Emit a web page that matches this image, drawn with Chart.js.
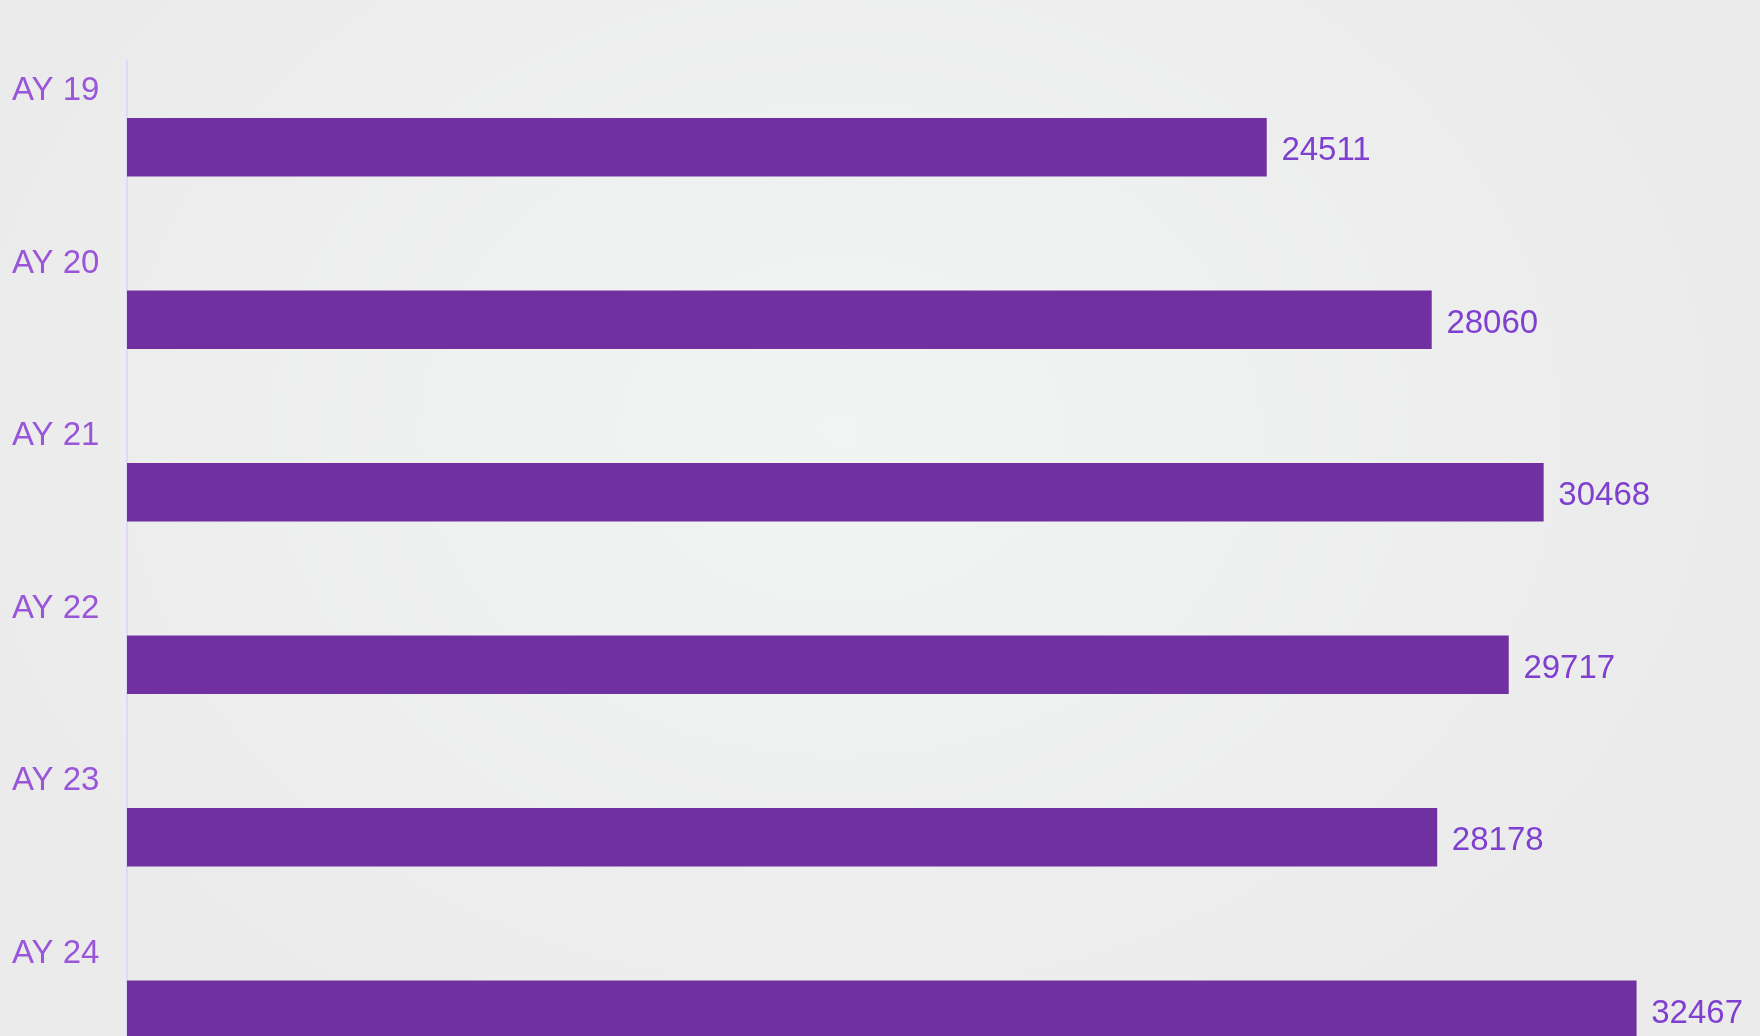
<!DOCTYPE html>
<html>
<head>
<meta charset="utf-8">
<title>AY totals</title>
<script src="https://cdn.jsdelivr.net/npm/chart.js@4.4.1/dist/chart.umd.min.js"></script>
<style>
  html, body {
    margin: 0;
    padding: 0;
    width: 1760px;
    height: 1036px;
    overflow: hidden;
    background: radial-gradient(ellipse 900px 700px at 840px 430px, #f2f3f3 0%, #eff0f0 45%, #ebebeb 100%);
  }
  #chart {
    display: block;
  }
</style>
</head>
<body>
<canvas id="chart" width="1760" height="1120"></canvas>
<script>
// chart data
const years = ["AY 19", "AY 20", "AY 21", "AY 22", "AY 23", "AY 24"];
const totals = [24511, 28060, 30468, 29717, 28178, 32467];

const fontFamily = "'Liberation Sans', Arial, sans-serif";

// Draw the value at the end of each bar
const valueLabels = {
  id: "valueLabels",
  afterDatasetsDraw(chart) {
    const ctx = chart.ctx;
    const meta = chart.getDatasetMeta(0);
    ctx.save();
    ctx.font = `33px ${fontFamily}`;
    ctx.fillStyle = "#7f3fcf";
    ctx.textAlign = "left";
    ctx.textBaseline = "middle";
    meta.data.forEach((bar, i) => {
      ctx.fillText(String(totals[i]), bar.x + 15, bar.y + 4);
    });
    ctx.restore();
  },
};

const ctx = document.getElementById("chart");

new Chart(ctx, {
  type: "bar",
  data: {
    labels: years,
    datasets: [
      {
        label: "Total",
        data: totals,
        backgroundColor: "#7030a0",
        borderWidth: 0,
        barThickness: 58,
      },
    ],
  },
  options: {
    indexAxis: "y",
    responsive: false,
    animation: false,
    layout: {
      // bottom padding soaks up the room Chart.js keeps for the last tick label
      padding: { left: 12, top: 61, right: 6, bottom: 24 },
    },
    plugins: {
      legend: { display: false },
      tooltip: { enabled: false },
    },
    scales: {
      x: {
        display: false,
        min: 0,
        max: 35000,
      },
      y: {
        grid: { display: false },
        border: { display: true, color: "#e4d6f7", width: 2 },
        ticks: {
          crossAlign: "far",
          labelOffset: -56,
          color: "#9a56d8",
          font: { family: fontFamily, size: 33 },
        },
        afterFit(scale) {
          scale.width = 115;
        },
      },
    },
  },
  plugins: [valueLabels],
});
</script>
</body>
</html>
